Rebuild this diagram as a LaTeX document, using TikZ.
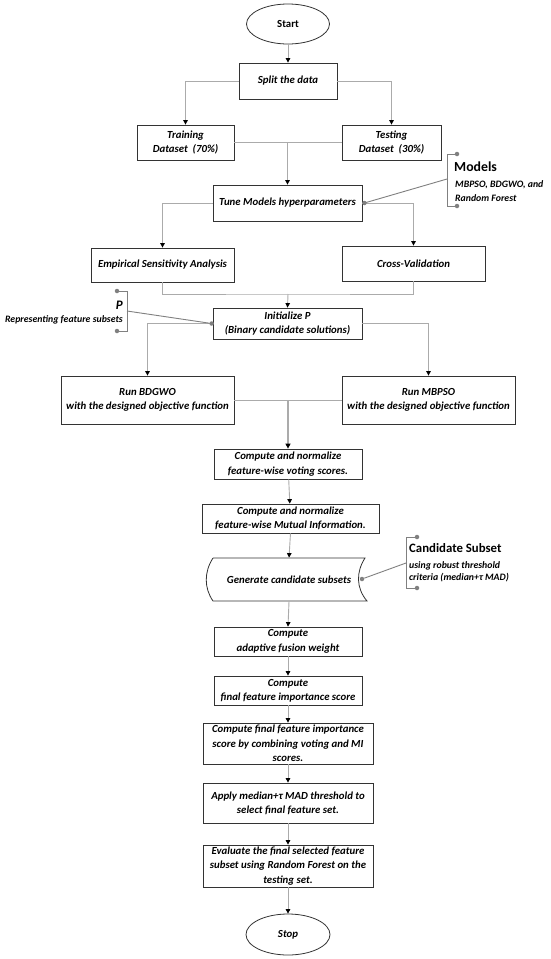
\documentclass[tikz,border=0pt]{standalone}
\usepackage{fontspec}
\setmainfont{Carlito}
\usetikzlibrary{arrows.meta,shapes.geometric,calc}
\begin{document}
\begin{tikzpicture}[x=1pt,y=-1pt,
  box/.style={draw=black!80,line width=0.8pt,fill=white,align=center,inner sep=1pt,
     font=\fontsize{10.8}{14.3}\selectfont\bfseries\itshape},
  oval/.style={ellipse,draw=black!80,line width=0.8pt,fill=white,inner sep=0pt},
  conn/.style={draw=black!33,line width=0.9pt},
  arr/.style={conn,-{Triangle[length=4.5pt,width=4.5pt,color=black]}},
  note/.style={draw=black!50,line width=0.9pt},
  dot/.style={circle,fill=black!50,inner sep=0pt,minimum size=4.5pt},
  head/.style={font=\fontsize{12.8}{14}\selectfont\bfseries,inner sep=0pt},
  sub/.style={font=\fontsize{9.8}{13.5}\selectfont\bfseries\itshape,inner sep=0pt,align=left}]
\useasboundingbox (0,0) rectangle (550,959);
\fill[white] (0,0) rectangle (550,959);
% nodes
\node[oval,minimum width=83,minimum height=40,font=\fontsize{10.8}{12}\selectfont\bfseries] (start) at (288,24) {Start};
\node[box,minimum width=98,minimum height=36] (split) at (288,81) {Split the data};
\node[box,minimum width=97,minimum height=35] (train) at (185.5,142.5) {Training\\Dataset~ (70\%)};
\node[box,minimum width=99,minimum height=35] (test) at (391.5,142.5) {Testing\\Dataset~ (30\%)};
\node[box,minimum width=149,minimum height=36] (tune) at (287.5,203) {Tune Models hyperparameters};
\node[box,minimum width=143,minimum height=34] (esa) at (162.5,265) {Empirical Sensitivity Analysis};
\node[box,minimum width=143,minimum height=35] (cv) at (413.5,263.5) {Cross-Validation};
\node[box,minimum width=149,minimum height=31] (init) at (287.5,323.5) {Initialize P\\(Binary candidate solutions)};
\node[box,minimum width=173,minimum height=48] (bdgwo) at (147.5,400) {Run BDGWO\\with the designed objective function};
\node[box,minimum width=173,minimum height=48] (mbpso) at (428.5,400) {Run MBPSO\\with the designed objective function};
\node[box,minimum width=148,minimum height=30] (vote) at (288,464) {Compute and normalize\\feature-wise voting scores.};
\node[box,minimum width=177,minimum height=29] (mi) at (290.5,518.5) {Compute and normalize\\feature-wise Mutual Information.};
\node[box,draw=none,fill=none,minimum width=154,minimum height=43] (gen) at (289,579.5) {Generate candidate subsets};
\draw[draw=black!80,line width=0.8pt] (213,558) -- (365,558) .. controls (356,572) and (356,588) .. (367,601) -- (213,601) .. controls (204,588) and (204,572) .. (213,558);
\node[box,minimum width=148,minimum height=29] (fusion) at (288,641.5) {Compute\\adaptive fusion weight};
\node[box,minimum width=148,minimum height=29] (final) at (288,690.5) {Compute\\final feature importance score};
\node[box,minimum width=170,minimum height=41] (comb) at (288,743.5) {Compute final feature importance\\score by combining voting and MI\\scores.};
\node[box,minimum width=170,minimum height=40] (apply) at (288,803) {Apply median+τ MAD threshold to\\select final feature set.};
\node[box,minimum width=170,minimum height=42] (eval) at (288,866) {Evaluate the final selected feature\\subset using Random Forest on the\\testing set.};
\node[oval,minimum width=84,minimum height=41,font=\fontsize{10.8}{12}\selectfont\bfseries\itshape] (stop) at (288,934.5) {Stop};
% connectors
\draw[arr] (start) -- (split);
\draw[arr] (split.west) -| (train.north);
\draw[arr] (split.east) -| (test.north);
\draw[conn] (train.east) -- (test.west);
\coordinate (m1) at (train.east -| tune.north);
\draw[arr] (m1) -- (tune.north);
\draw[arr] (tune.west) -| (esa.north);
\draw[arr] (tune.east) -| (cv.north);
\coordinate (m2) at (288,294);
\draw[conn] (esa.south) |- (m2) -| (cv.south);
\draw[arr] (m2) -- (init.north);
\draw[arr] (init.west) -| (bdgwo.north);
\draw[arr] (init.east) -| (mbpso.north);
\draw[conn] (bdgwo.east) -- (mbpso.west);
\coordinate (m3) at (bdgwo.east -| vote.north);
\draw[arr,line width=1.6pt,-{Triangle[length=5pt,width=5pt,color=black]}] (m3) -- (vote.north);
\draw[arr] (vote) -- (mi);
\draw[arr] (mi.south) -- (gen.north);
\draw[arr] (gen.south) -- (fusion.north);
\draw[arr] (fusion) -- (final);
\draw[arr] (final) -- (comb);
\draw[arr] (comb) -- (apply);
\draw[arr] (apply) -- (eval);
\draw[arr] (eval) -- (stop);
% Models annotation
\coordinate (mb1) at (447,179);
\draw[note] ($(tune.east)+(2,0)$) -- (mb1);
\node[dot] (md0) at ($(tune.east)+(2,0)$) {};
\node[dot] (md1) at (457,154) {};
\node[dot] (md2) at (457,206) {};
\draw[note] (md1) -- (447,154) -- (447,206) -- (md2);
\node[head,font=\fontsize{13.8}{14}\selectfont\bfseries,anchor=base west] (mhead) at (454,171) {Models};
\node[sub,anchor=base west] (mtxt1) at (455,187) {MBPSO, BDGWO, and};
\node[sub,anchor=base west] (mtxt2) at (455,201) {Random Forest};
% P annotation
\coordinate (pb1) at (127,311);
\node[dot] (pd0) at ($(init.west)+(-1,0)$) {};
\draw[note] (pb1) -- (pd0);
\node[dot] (pd1) at (117,291) {};
\node[dot] (pd2) at (117,331) {};
\draw[note] (pd1) -- (127,291) -- (127,331) -- (pd2);
\node[head,font=\fontsize{13}{14}\selectfont\bfseries\itshape,anchor=base east] (phead) at (123,309) {P};
\node[sub,anchor=base east] (ptxt) at (123,322) {Representing feature subsets};
% Candidate annotation
\coordinate (cb1) at (406,563);
\node[dot] (cd0) at (362,579) {};
\draw[note] (cd0) -- (cb1);
\node[dot] (cd1) at (417,537) {};
\node[dot] (cd2) at (417,588) {};
\draw[note] (cd1) -- (406,537) -- (406,588) -- (cd2);
\node[head,anchor=base west] (chead) at (409,552) {Candidate Subset};
\node[sub,anchor=base west] (ctxt1) at (409,568) {using robust threshold};
\node[sub,anchor=base west] (ctxt2) at (409,580) {criteria (median+τ MAD)};
\end{tikzpicture}
\end{document}
